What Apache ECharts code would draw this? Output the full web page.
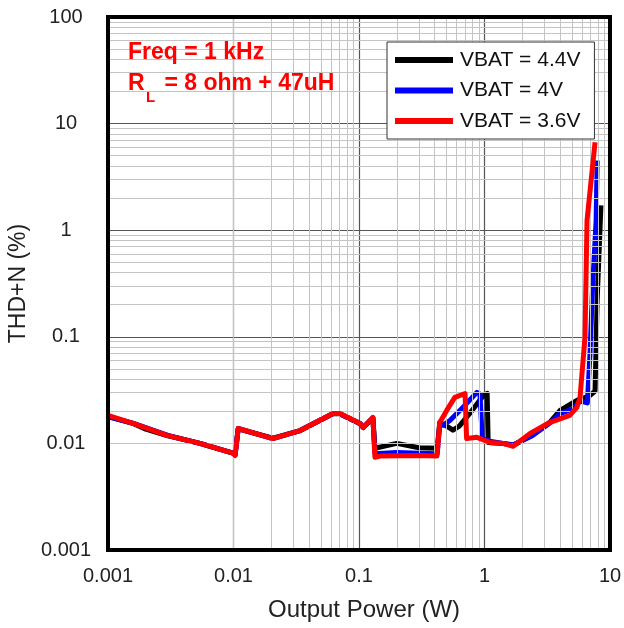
<!DOCTYPE html>
<html>
<head>
<meta charset="utf-8">
<script src="https://cdn.jsdelivr.net/npm/echarts@6/dist/echarts.min.js"></script>
<style>
html,body{margin:0;padding:0;background:#fff;}
#chart{width:624px;height:628px;}
</style>
</head>
<body>
<div id="chart"></div>
<script>
// ---- data ----
var seriesNames = ['VBAT = 4.4V', 'VBAT = 4V', 'VBAT = 3.6V'];
var seriesColors = ['#000000', '#0000ff', '#ff0000'];

var powerBlack = [0.001,0.0016,0.002,0.003,0.0054,0.0099,0.0103,0.0109,0.0206,0.034,0.062,0.070,0.102,0.108,0.129,0.134,0.137,0.2,0.3,0.42,0.44,0.5,0.56,0.63,0.76,0.98,1.05,1.07,1.4,1.7,2.4,3.3,4.0,5.45,6.9,7.6,7.9,8.47];
var thdBlack   = [0.0178,0.0153,0.0136,0.0118,0.0100,0.0081,0.0079,0.0137,0.0112,0.0132,0.0190,0.0190,0.0153,0.0141,0.0172,0.0090,0.0089,0.0100,0.0091,0.0090,0.0157,0.0145,0.0133,0.0145,0.0190,0.0282,0.0294,0.0102,0.0100,0.0096,0.0120,0.0157,0.0204,0.0253,0.0280,0.0310,0.22,1.71];

var powerBlue = [0.001,0.0016,0.003,0.0054,0.0099,0.0103,0.0109,0.0206,0.034,0.062,0.070,0.102,0.108,0.129,0.134,0.137,0.2,0.3,0.42,0.44,0.467,0.53,0.675,0.87,0.92,0.96,1.1,1.4,1.7,2.4,3.3,4.0,5.0,5.8,6.6,6.93,7.26,7.75,7.9];
var thdBlue   = [0.0178,0.0154,0.0119,0.0100,0.0081,0.0078,0.0138,0.0111,0.0132,0.0191,0.0191,0.0154,0.0141,0.0174,0.0080,0.0080,0.0082,0.0081,0.0080,0.0150,0.0148,0.0164,0.0218,0.0301,0.029,0.0111,0.0105,0.0100,0.0097,0.0118,0.0155,0.019,0.021,0.025,0.024,0.07,0.29,1.23,4.5];

var powerRed = [0.001,0.00158,0.00295,0.0054,0.0099,0.0103,0.0109,0.0206,0.0339,0.0621,0.0705,0.102,0.108,0.129,0.134,0.147,0.3,0.418,0.44,0.50,0.58,0.70,0.72,0.87,1.11,1.41,1.69,2.31,3.3,4.78,5.45,5.77,6.32,6.56,7.6];
var thdRed   = [0.0183,0.0154,0.0119,0.0100,0.0081,0.0077,0.0138,0.0111,0.0132,0.0191,0.0191,0.0154,0.0141,0.0175,0.0074,0.0076,0.0077,0.0076,0.0157,0.0204,0.027,0.0294,0.0111,0.0114,0.0102,0.0100,0.0094,0.0124,0.0157,0.0183,0.0218,0.027,0.099,1.23,6.67];

var xTickLabels = ['0.001', '0.01', '0.1', '1', '10'];
var yTickLabels = ['0.001', '0.01', '0.1', '1', '10', '100'];
var xMinorGrid = [0.002,0.003,0.004,0.005,0.006,0.007,0.008,0.009,
                  0.02,0.03,0.04,0.05,0.06,0.07,0.08,0.09,
                  0.2,0.3,0.4,0.5,0.6,0.7,0.8,0.9,
                  2,3,4,5,6,7,8,9];
var yMinorGrid = [0.002,0.003,0.004,0.005,0.006,0.007,0.008,0.009,
                  0.02,0.03,0.04,0.05,0.06,0.07,0.08,0.09,
                  0.2,0.3,0.4,0.5,0.6,0.7,0.8,0.9,
                  2,3,4,5,6,7,8,9,
                  20,30,40,50,60,70,80,90];

function zip(a, b) { return a.map(function (v, i) { return [v, b[i]]; }); }
var powers = [powerBlack, powerBlue, powerRed];
var thds = [thdBlack, thdBlue, thdRed];

var FONT = 'Liberation Sans, Arial, sans-serif';

var chart = echarts.init(document.getElementById('chart'), null, {renderer: 'canvas'});

var minorLines = [];
xMinorGrid.forEach(function (v) { minorLines.push({xAxis: v}); });
yMinorGrid.forEach(function (v) { minorLines.push({yAxis: v}); });

var series = [{
  type: 'line',
  name: 'grid',
  data: [[0.001, 0.001]],
  symbol: 'none',
  lineStyle: {opacity: 0},
  z: 1,
  silent: true,
  animation: false,
  markLine: {
    silent: true,
    symbol: ['none', 'none'],
    label: {show: false},
    animation: false,
    lineStyle: {color: '#c4c4c4', width: 1, type: 'solid'},
    emphasis: {disabled: true},
    data: minorLines
  }
}];
for (var i = 0; i < 3; i++) {
  series.push({
    type: 'line',
    name: seriesNames[i],
    data: zip(powers[i], thds[i]),
    symbol: 'none',
    color: seriesColors[i],
    lineStyle: {width: 5, color: seriesColors[i], join: 'round'},
    z: 3 + i,
    animation: false
  });
}

var option = {
  backgroundColor: '#ffffff',
  animation: false,
  grid: {
    left: 108, right: 14, top: 17, bottom: 78,
    outerBoundsMode: 'none', containLabel: false,
    show: true, borderColor: '#000', borderWidth: 4, backgroundColor: 'transparent', z: 10
  },
  xAxis: {
    type: 'log', logBase: 10, min: 0.001, max: 10,
    name: 'Output Power (W)', nameLocation: 'middle', nameGap: 48,
    nameTextStyle: {fontFamily: FONT, fontSize: 24, color: '#222', padding: [0, 0, 0, 10]},
    axisLine: {show: false},
    axisTick: {show: false},
    axisLabel: {
      fontFamily: FONT, fontSize: 20, color: '#222', margin: 16,
      formatter: function (v) { return xTickLabels[Math.round(Math.log10(v)) + 3]; }
    },
    splitLine: {show: true, lineStyle: {color: '#555', width: 1.2}}
  },
  yAxis: {
    type: 'log', logBase: 10, min: 0.001, max: 100,
    name: 'THD+N (%)', nameLocation: 'middle', nameGap: 76, nameRotate: 90,
    nameTextStyle: {fontFamily: FONT, fontSize: 23, color: '#222'},
    axisLine: {show: false},
    axisTick: {show: false},
    axisLabel: {
      fontFamily: FONT, fontSize: 20, color: '#222', margin: 42, align: 'center',
      formatter: function (v) { return yTickLabels[Math.round(Math.log10(v)) + 3]; }
    },
    splitLine: {show: true, lineStyle: {color: '#555', width: 1.2}}
  },
  legend: {
    data: seriesNames,
    orient: 'vertical',
    left: 387, top: 42,
    padding: [6, 14, 6, 8],
    itemGap: 6.5,
    itemWidth: 58, itemHeight: 6,
    icon: 'rect',
    backgroundColor: '#fff',
    borderColor: '#333', borderWidth: 1, borderRadius: 0,
    textStyle: {fontFamily: FONT, fontSize: 21, color: '#111', lineHeight: 24, padding: [0, 0, 0, 2]},
    selectedMode: false,
    z: 20
  },
  graphic: [
    {type: 'text', left: 128, top: 41, z: 30,
     style: {text: 'Freq = 1 kHz', font: 'bold 23px ' + FONT, fill: '#ff0000'}},
    {type: 'text', left: 128, top: 72, z: 30,
     style: {text: 'R', font: 'bold 23px ' + FONT, fill: '#ff0000'}},
    {type: 'text', left: 146, top: 90, z: 30,
     style: {text: 'L', font: 'bold 15px ' + FONT, fill: '#ff0000'}},
    {type: 'text', left: 158, top: 72, z: 30,
     style: {text: ' = 8 ohm + 47uH', font: 'bold 23px ' + FONT, fill: '#ff0000'}}
  ],
  series: series
};
chart.setOption(option);
</script>
</body>
</html>
